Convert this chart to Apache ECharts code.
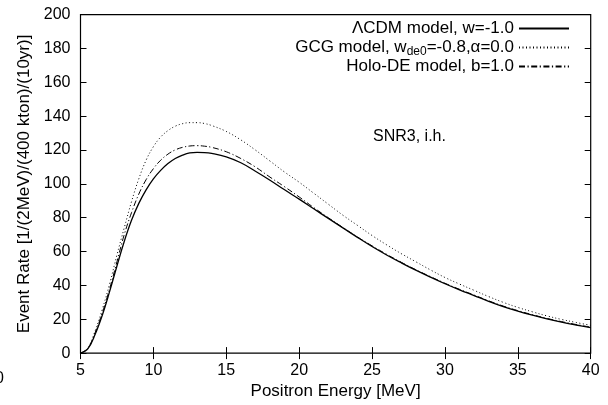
<!DOCTYPE html>
<html>
<head>
<meta charset="utf-8">
<script src="https://cdn.jsdelivr.net/npm/echarts@6/dist/echarts.min.js"></script>
<style>
  html, body { margin: 0; padding: 0; background: #fff; }
  #chart { width: 608px; height: 405px; }
</style>
</head>
<body>
<div id="chart"></div>
<script>
// positron energy grid [MeV]
const energy = [5, 5.5, 6, 6.5, 7, 7.5, 8, 8.5, 9, 9.5, 10, 10.5, 11, 11.5, 12, 12.5, 13, 13.5, 14,
  15, 16, 17, 18, 19, 20, 21, 22, 23, 24, 25, 26, 27, 28, 29, 30, 31, 32, 33, 34, 35, 36, 37, 38, 39, 40];

// event rates
const lcdm = [0, 2.5, 11, 22.5, 36.5, 51.5, 66, 78.5, 88.5, 96.5, 103, 108, 112, 115, 117, 118.3, 118.6, 118.5, 118,
  116, 112.5, 107.5, 102.2, 96.5, 91, 85.3, 79.6, 74, 68.4, 63, 58, 53.4, 49, 44.9, 41, 37.4, 34, 30.6, 27.5, 24.8, 22.4, 20.2, 18.3, 16.6, 15];
const gcg = [0, 3, 13, 26, 41, 58, 74, 89.5, 103, 114, 122, 127.7, 131.5, 134.1, 135.6, 136.2, 136.2, 135.7, 134.5,
  131, 126, 120, 113.5, 107, 101, 94.5, 88, 81.5, 75.5, 69.5, 64, 58.8, 54, 49.2, 44.7, 40.8, 37.1, 33.4, 30, 27, 24.4, 22, 19.9, 18.1, 16.4];
const holo = [0, 2.8, 12, 24, 38, 54, 70, 83, 94, 102.5, 109, 114, 117.6, 120.1, 121.6, 122.4, 122.6, 122.3, 121.6,
  119, 115, 110, 104, 98.3, 92.3, 86, 80, 74.2, 68.6, 63.4, 58.4, 53.7, 49.3, 45.2, 41.3, 37.7, 34.3, 30.9, 27.8, 25.1, 22.7, 20.5, 18.6, 16.9, 15.3];

const seriesNames = ["LCDM", "GCG", "Holo"];
const legendLabels = {
  LCDM: "ΛCDM model, w=-1.0",
  GCG: "GCG model, w{sub|de0}=-0.8,α=0.0",
  Holo: "Holo-DE model, b=1.0",
};

const font = "Liberation Sans";
const pairs = (ys) => energy.map((x, i) => [x, ys[i]]);

let chart = echarts.init(document.getElementById("chart"), null, { renderer: "canvas" });

const tickAxisX = {
  type: "value", min: 5, max: 40, interval: 5,
  axisLine: { show: false },
  axisTick: { inside: true, length: 6, lineStyle: { color: "#000" } },
  splitLine: { show: false },
};
const tickAxisY = {
  type: "value", min: 0, max: 200, interval: 20,
  axisLine: { show: false },
  axisTick: { inside: true, length: 6, lineStyle: { color: "#000" } },
  splitLine: { show: false },
};

const option = {
  animation: false,
  backgroundColor: "#fff",
  grid: {
    show: true, left: 80.5, right: 17.3, top: 14.7, bottom: 42.3,
    borderColor: "#000", borderWidth: 1.2, backgroundColor: "transparent",
  },
  xAxis: [
    Object.assign({}, tickAxisX, {
      position: "bottom",
      name: "Positron Energy [MeV]",
      nameLocation: "middle",
      nameGap: 23,
      nameTextStyle: { color: "#000", fontSize: 17, fontFamily: font },
      axisLabel: { color: "#000", fontSize: 16, fontFamily: font, margin: 9 },
    }),
    Object.assign({}, tickAxisX, { position: "top", axisLabel: { show: false } }),
  ],
  yAxis: [
    Object.assign({}, tickAxisY, {
      position: "left",
      name: "Event Rate [1/(2MeV)/(400 kton)/(10yr)]",
      nameLocation: "middle",
      nameGap: 45,
      nameTextStyle: { color: "#000", fontSize: 17, fontFamily: font },
      axisLabel: { color: "#000", fontSize: 16, fontFamily: font, margin: 10 },
    }),
    Object.assign({}, tickAxisY, { position: "right", axisLabel: { show: false } }),
  ],
  legend: {
    orient: "vertical",
    align: "right",
    padding: 0,
    right: 38,
    top: 20,
    itemWidth: 50,
    itemHeight: 12,
    itemGap: 0.5,
    data: seriesNames,
    formatter: (name) => legendLabels[name],
    itemStyle: { opacity: 0 },
    textStyle: {
      color: "#000", fontSize: 17, fontFamily: font, lineHeight: 16,
      rich: {
        sub: { fontSize: 12, fontFamily: font, color: "#000", lineHeight: 8, padding: [8, 0, 0, 0] },
      },
    },
  },
  graphic: [
    {
      type: "text", left: 373, top: 129,
      style: { text: "SNR3, i.h.", fill: "#000", font: "16px " + font },
    },
    {
      type: "text", left: -5, top: 371,
      style: { text: "0", fill: "#000", font: "16px " + font },
    },
  ],
  series: [
    {
      name: "LCDM", type: "line", xAxisIndex: 0, yAxisIndex: 0,
      data: pairs(lcdm), showSymbol: false, symbol: "none", smooth: 0.4,
      lineStyle: { color: "#000", width: 1.3, type: "solid" },
      itemStyle: { color: "#000" },
    },
    {
      name: "GCG", type: "line", xAxisIndex: 0, yAxisIndex: 0,
      data: pairs(gcg), showSymbol: false, symbol: "none", smooth: 0.4,
      lineStyle: { color: "#000", width: 1, type: [1, 2.5] },
      itemStyle: { color: "#000" },
    },
    {
      name: "Holo", type: "line", xAxisIndex: 0, yAxisIndex: 0,
      data: pairs(holo), showSymbol: false, symbol: "none", smooth: 0.4,
      lineStyle: { color: "#000", width: 1, type: [6, 2.5, 1.2, 2.5] },
      itemStyle: { color: "#000" },
    },
  ],
};

chart.setOption(option);
</script>
</body>
</html>
